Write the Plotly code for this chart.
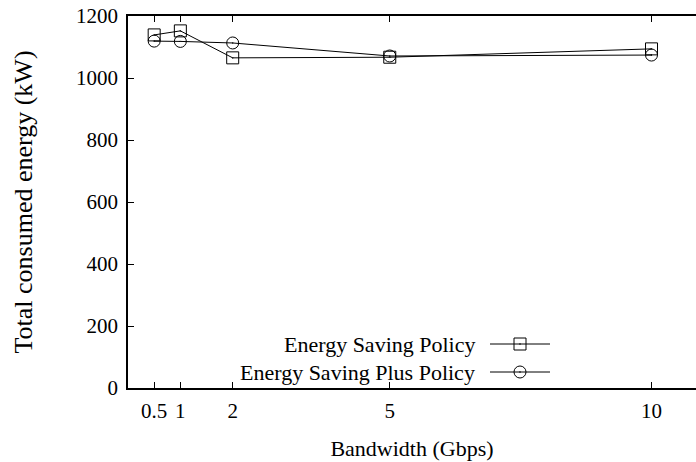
import plotly.graph_objects as go

# Bandwidth settings (Gbps) and total consumed energy (kW) per policy
bandwidth = [0.5, 1, 2, 5, 10]
energy_saving = [1139, 1152, 1065, 1067, 1094]
energy_saving_plus = [1119, 1118, 1113, 1071, 1074]
series_names = ["Energy Saving Policy", "Energy Saving Plus Policy"]
x_ticks = [0.5, 1, 2, 5, 10]
x_tick_labels = ["0.5", "1", "2", "5", "10"]
y_ticks = [0, 200, 400, 600, 800, 1000, 1200]

FONT = "Liberation Serif"
W, H = 696, 462
L, T, B = 128, 16, 74

fig = go.Figure()

symbols = ["square-open-dot", "circle-open-dot"]
for name, ys, sym in zip(series_names, [energy_saving, energy_saving_plus], symbols):
    fig.add_trace(go.Scatter(
        x=bandwidth, y=ys, mode="lines+markers", name=name,
        line=dict(color="black", width=1),
        marker=dict(symbol=sym, size=12, color="black", line=dict(width=1, color="black")),
        showlegend=False,
    ))

# Key drawn on a hidden overlay axis whose units are page pixels
key_rows_y = [344, 372]
for name, sym, ky in zip(series_names, symbols, key_rows_y):
    fig.add_trace(go.Scatter(
        x=[490, 550], y=[ky, ky], mode="lines", xaxis="x2", yaxis="y2",
        line=dict(color="black", width=1), showlegend=False, hoverinfo="skip",
    ))
    fig.add_trace(go.Scatter(
        x=[520], y=[ky], mode="markers", xaxis="x2", yaxis="y2",
        marker=dict(symbol=sym, size=12, color="black", line=dict(width=1, color="black")),
        showlegend=False, hoverinfo="skip",
    ))
    fig.add_annotation(
        x=477, y=ky, xref="x2", yref="y2", text=name, showarrow=False,
        xanchor="right", yanchor="middle", font=dict(family=FONT, size=22, color="#000000"),
    )

fig.update_layout(
    width=W, height=H,
    margin=dict(l=L, r=0, t=T, b=B),
    paper_bgcolor="white", plot_bgcolor="white",
    font=dict(family=FONT, color="#000000"),
    xaxis=dict(
        range=[0, 10.85], tickvals=x_ticks, ticktext=x_tick_labels,
        ticks="inside", ticklen=6, tickwidth=1, tickcolor="black",
        showline=True, linecolor="black", linewidth=1.5, mirror="allticks",
        showgrid=False, zeroline=False, ticklabelstandoff=3,
        tickfont=dict(family=FONT, size=21, color="#000000"),
        title=dict(text="Bandwidth (Gbps)", font=dict(family=FONT, size=22, color="#000000"), standoff=19),
    ),
    yaxis=dict(
        range=[0, 1200], tickvals=y_ticks,
        ticks="inside", ticklen=6, tickwidth=1, tickcolor="black",
        showline=True, linecolor="black", linewidth=1.5, mirror=False,
        showgrid=False, zeroline=False, ticklabelstandoff=4,
        tickfont=dict(family=FONT, size=21, color="#000000"),
        title=dict(text="Total consumed energy (kW)", font=dict(family=FONT, size=26, color="#000000"), standoff=36),
    ),
    xaxis2=dict(range=[L, W], overlaying="x", visible=False, fixedrange=True, anchor="y2"),
    yaxis2=dict(range=[H - B, T], overlaying="y", visible=False, fixedrange=True, anchor="x2"),
)

fig.write_html("out.html")
